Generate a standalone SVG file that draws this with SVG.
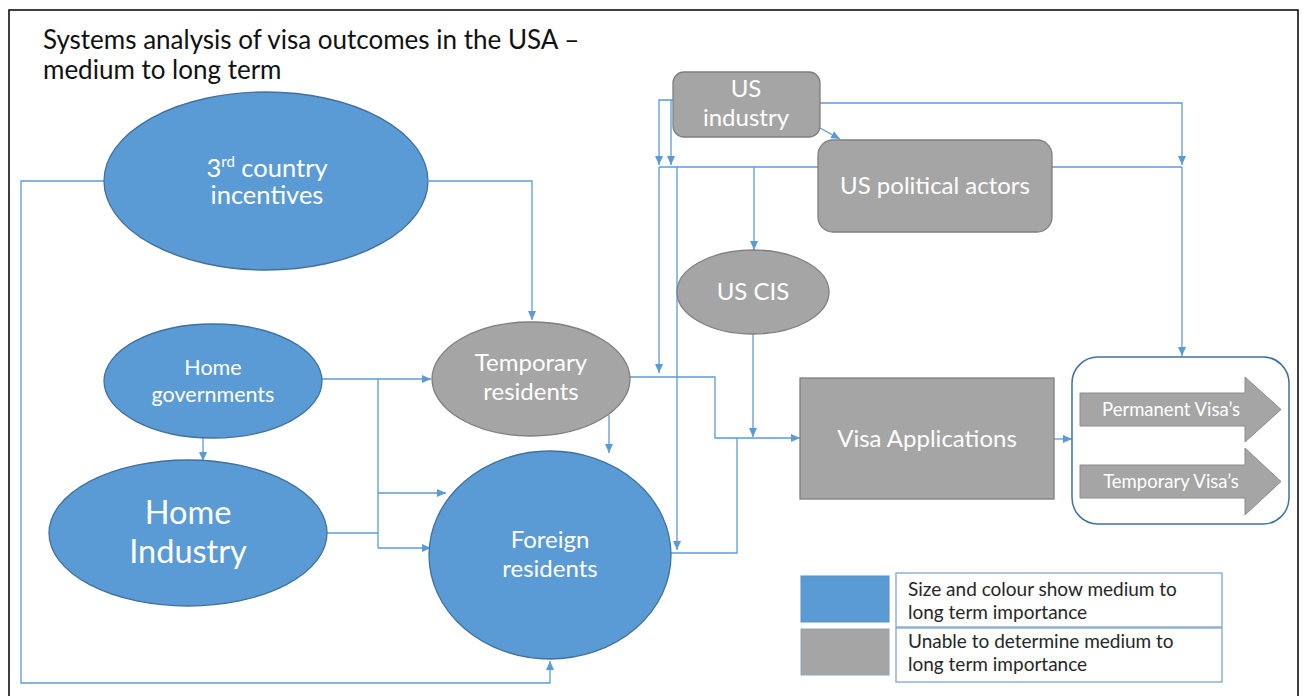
<svg xmlns="http://www.w3.org/2000/svg" width="1304" height="696" viewBox="0 0 1304 696">
<defs>
<style>
.blue{fill:#5B9BD5;stroke:#41719C;stroke-width:1.3}
.gray{fill:#A5A5A5;stroke:#7F7F7F;stroke-width:1.3}
.lbl{font-family:Lato,"Liberation Sans",sans-serif;fill:#FFFFFF;text-anchor:middle}
.con{fill:none;stroke:#5B9BD5;stroke-width:1.3}
.legtxt{font-family:Lato,"Liberation Sans",sans-serif;fill:#262626;font-size:19px}
</style>
<marker id="ah" markerUnits="userSpaceOnUse" markerWidth="9" markerHeight="8" refX="9" refY="4" orient="auto">
<path d="M0,0 L9,4 L0,8 z" fill="#5B9BD5"/>
</marker>
</defs>
<rect x="0" y="0" width="1304" height="696" fill="#FFFFFF"/>
<rect x="9" y="10" width="1289" height="700" fill="none" stroke="#000000" stroke-width="1.5"/>
<text x="43" y="49" font-family="Lato,'Liberation Sans',sans-serif" font-size="26" fill="#111111">Systems analysis of visa outcomes in the USA –</text>
<text x="43" y="79" font-family="Lato,'Liberation Sans',sans-serif" font-size="26" fill="#111111">medium to long term</text>

<g id="connectors">
<path class="con" d="M429,181 H532 V320" marker-end="url(#ah)"/>
<path class="con" d="M104,181 H21 V683 H550 V661" marker-end="url(#ah)"/>
<path class="con" d="M322,379 H431" marker-end="url(#ah)"/>
<path class="con" d="M378,379 V548"/>
<path class="con" d="M378,493 H446" marker-end="url(#ah)"/>
<path class="con" d="M378,548 H431" marker-end="url(#ah)"/>
<path class="con" d="M327,533 H378"/>
<path class="con" d="M203,438 V461" marker-end="url(#ah)"/>
<path class="con" d="M609,415 V453" marker-end="url(#ah)"/>
<path class="con" d="M630,377 H715 V438 H800" marker-end="url(#ah)"/>
<path class="con" d="M671,553 H737 V438"/>
<path class="con" d="M753,334 V437" marker-end="url(#ah)"/>
<path class="con" d="M673,100 H659 V165" marker-end="url(#ah)"/>
<path class="con" d="M671,100 V165" marker-end="url(#ah)"/>
<path class="con" d="M818,167 H659"/>
<path class="con" d="M659,167 V373" marker-end="url(#ah)"/>
<path class="con" d="M677,167 V550" marker-end="url(#ah)"/>
<path class="con" d="M754,167 V250" marker-end="url(#ah)"/>
<path class="con" d="M820,128 L840,139" marker-end="url(#ah)"/>
<path class="con" d="M820,103 H1182 V165" marker-end="url(#ah)"/>
<path class="con" d="M1052,167 H1182"/>
<path class="con" d="M1182,167 V356" marker-end="url(#ah)"/>
<path class="con" d="M1054,439 H1072" marker-end="url(#ah)"/>
</g>

<g id="node-3rd-country">
<ellipse class="blue" cx="266" cy="181" rx="162" ry="89"/>
<text class="lbl" font-size="25.5" x="267" y="177">3<tspan font-size="15" dy="-10">rd</tspan><tspan dy="10"> country</tspan></text>
<text class="lbl" font-size="25.5" x="267" y="204">incentives</text>
</g>

<g id="node-home-governments">
<ellipse class="blue" cx="213" cy="381" rx="109" ry="57"/>
<text class="lbl" font-size="21.5" x="213" y="375">Home</text>
<text class="lbl" font-size="21.5" x="213" y="402">governments</text>
</g>

<g id="node-home-industry">
<ellipse class="blue" cx="188" cy="533" rx="139" ry="73"/>
<text class="lbl" font-size="32.5" x="188" y="524">Home</text>
<text class="lbl" font-size="32.5" x="188" y="563">Industry</text>
</g>

<g id="node-temporary-residents">
<ellipse class="gray" cx="531" cy="379" rx="99" ry="57"/>
<text class="lbl" font-size="24" x="531" y="371">Temporary</text>
<text class="lbl" font-size="24" x="531" y="400">residents</text>
</g>

<g id="node-foreign-residents">
<ellipse class="blue" cx="550" cy="555" rx="121" ry="104"/>
<text class="lbl" font-size="24" x="550" y="548">Foreign</text>
<text class="lbl" font-size="24" x="550" y="577">residents</text>
</g>

<g id="node-us-industry">
<rect class="gray" x="673" y="72" width="147" height="65" rx="11"/>
<text class="lbl" font-size="24" x="746" y="97">US</text>
<text class="lbl" font-size="24" x="746" y="126">industry</text>
</g>

<g id="node-us-political-actors">
<rect class="gray" x="818" y="140" width="234" height="92" rx="15"/>
<text class="lbl" font-size="24" x="935" y="194">US political actors</text>
</g>

<g id="node-us-cis">
<ellipse class="gray" cx="753" cy="292" rx="76" ry="42"/>
<text class="lbl" font-size="24" x="753" y="300">US CIS</text>
</g>

<g id="node-visa-applications">
<rect class="gray" x="800" y="378" width="254" height="121"/>
<text class="lbl" font-size="24" x="927" y="447">Visa Applications</text>
</g>

<g id="node-visa-outcomes">
<rect x="1072" y="357" width="217" height="167" rx="26" fill="#FFFFFF" stroke="#41719C" stroke-width="1.5"/>
<path class="gray" d="M1080,393 H1245 V377 L1281,409.5 L1245,442 V426 H1080 Z" style="stroke:#8C8C8C;stroke-width:1"/>
<text class="lbl" font-size="18.5" x="1171" y="416">Permanent Visa’s</text>
<path class="gray" d="M1080,465 H1245 V448 L1281,481.5 L1245,515 V498 H1080 Z" style="stroke:#8C8C8C;stroke-width:1"/>
<text class="lbl" font-size="18.5" x="1171" y="488">Temporary Visa’s</text>
</g>

<g id="legend">
<rect x="801" y="576" width="88" height="46" fill="#5B9BD5" stroke="#5B8FC4" stroke-width="1"/>
<rect x="801" y="629" width="88" height="46" fill="#A5A5A5" stroke="#8FA6BC" stroke-width="1"/>
<rect x="896" y="573" width="326" height="54" fill="#FFFFFF" stroke="#7FA7CF" stroke-width="1.3"/>
<rect x="896" y="628" width="326" height="54" fill="#FFFFFF" stroke="#7FA7CF" stroke-width="1.3"/>
<text class="legtxt" x="908" y="596">Size and colour show medium to</text>
<text class="legtxt" x="908" y="619">long term importance</text>
<text class="legtxt" x="908" y="648">Unable to determine medium to</text>
<text class="legtxt" x="908" y="671">long term importance</text>
</g>
</svg>
